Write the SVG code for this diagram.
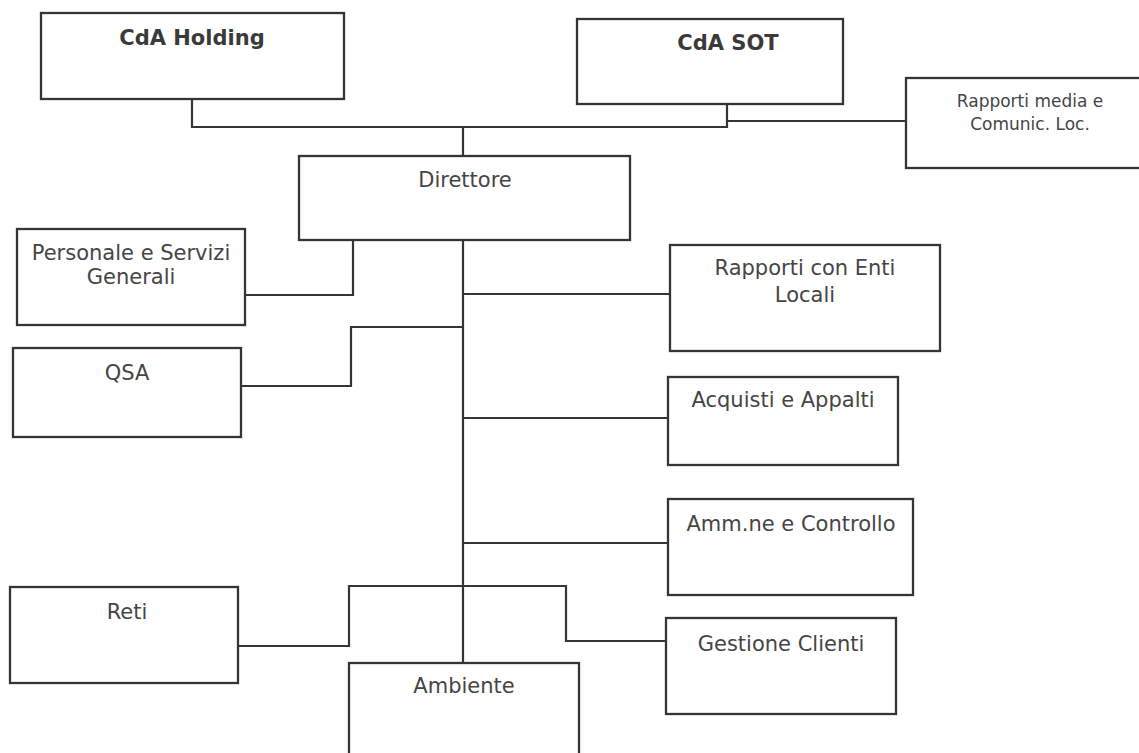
<svg xmlns="http://www.w3.org/2000/svg" width="1139" height="753" viewBox="0 0 1139 753">
  <style>
    .box { fill: #ffffff; stroke: #353535; stroke-width: 2.3; }
    .wire { fill: none; stroke: #353535; stroke-width: 2.2; }
    .lbl { font-family: "DejaVu Sans", Verdana, sans-serif; font-size: 21px; fill: #454545; text-anchor: middle; }
    .title { font-family: "DejaVu Sans", Verdana, sans-serif; font-size: 21px; font-weight: bold; fill: #3a3a3a; text-anchor: middle; }
    .small { font-size: 17px; }
  </style>
  <rect width="1139" height="753" fill="#ffffff"/>

  <!-- connectors -->
  <g id="connectors">
    <path class="wire" d="M192 99 V127 H727 V104"/>
    <path class="wire" d="M727 121 H906"/>
    <path class="wire" d="M463 127 V156"/>
    <path class="wire" d="M463 233 V663"/>
    <path class="wire" d="M245 295 H353 V239"/>
    <path class="wire" d="M241 386 H351 V327 H463"/>
    <path class="wire" d="M463 294 H670"/>
    <path class="wire" d="M463 418 H668"/>
    <path class="wire" d="M463 543 H668"/>
    <path class="wire" d="M238 646 H349 V586 H566 V641 H666"/>
  </g>

  <g id="cda-holding">
    <rect class="box" x="41" y="13" width="303" height="86"/>
    <text class="title" x="192" y="45">CdA Holding</text>
  </g>

  <g id="cda-sot">
    <rect class="box" x="577" y="19" width="266" height="85"/>
    <text class="title" x="728" y="50">CdA SOT</text>
  </g>

  <g id="rapporti-media">
    <rect class="box" x="906" y="78" width="240" height="90"/>
    <text class="lbl small" x="1030" y="107">Rapporti media e</text>
    <text class="lbl small" x="1030" y="130">Comunic. Loc.</text>
  </g>

  <g id="direttore">
    <rect class="box" x="299" y="156" width="331" height="84"/>
    <text class="lbl" x="465" y="187">Direttore</text>
  </g>

  <g id="personale">
    <rect class="box" x="17" y="229" width="228" height="96"/>
    <text class="lbl" x="131" y="260">Personale e Servizi</text>
    <text class="lbl" x="131" y="284">Generali</text>
  </g>

  <g id="qsa">
    <rect class="box" x="13" y="348" width="228" height="89"/>
    <text class="lbl" x="127" y="380">QSA</text>
  </g>

  <g id="rapporti-enti">
    <rect class="box" x="670" y="245" width="270" height="106"/>
    <text class="lbl" x="805" y="275">Rapporti con Enti</text>
    <text class="lbl" x="805" y="302">Locali</text>
  </g>

  <g id="acquisti">
    <rect class="box" x="668" y="377" width="230" height="88"/>
    <text class="lbl" x="783" y="407">Acquisti e Appalti</text>
  </g>

  <g id="amministrazione">
    <rect class="box" x="668" y="499" width="245" height="96"/>
    <text class="lbl" x="791" y="531">Amm.ne e Controllo</text>
  </g>

  <g id="reti">
    <rect class="box" x="10" y="587" width="228" height="96"/>
    <text class="lbl" x="127" y="619">Reti</text>
  </g>

  <g id="gestione-clienti">
    <rect class="box" x="666" y="618" width="230" height="96"/>
    <text class="lbl" x="781" y="651">Gestione Clienti</text>
  </g>

  <g id="ambiente">
    <rect class="box" x="349" y="663" width="230" height="100"/>
    <text class="lbl" x="464" y="693">Ambiente</text>
  </g>
</svg>
